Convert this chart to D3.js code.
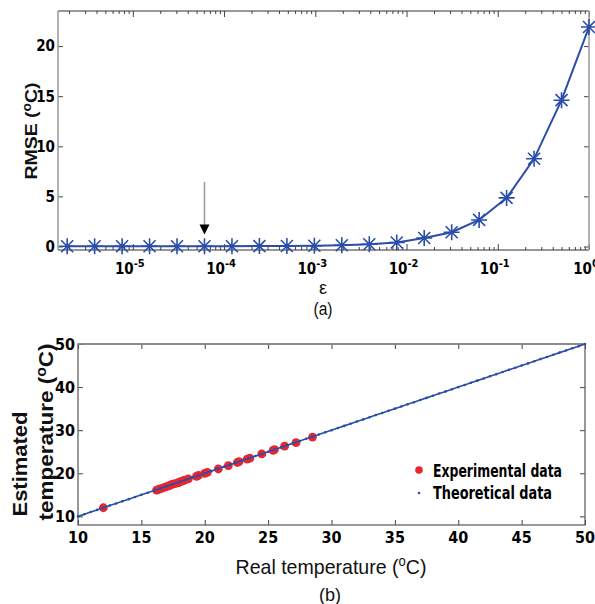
<!DOCTYPE html>
<html>
<head>
<meta charset="utf-8">
<script src="https://cdn.jsdelivr.net/npm/d3@7"></script>
<style>
  body { margin: 0; background: #fff; }
  svg { display: block; }
  .tick-lab { font-family: "Liberation Sans Narrow", "Arial Narrow", "DejaVu Sans Condensed", sans-serif; font-weight: bold; font-stretch: condensed; fill: #000; }
  .lab { font-family: "Liberation Sans", Arial, sans-serif; fill: #111; }
</style>
</head>
<body>
<div id="chart"></div>
<script>
// (a) RMSE vs epsilon
const epsVals = [1.9073e-6, 3.8147e-6, 7.6294e-6, 1.5259e-5, 3.0518e-5, 6.1035e-5, 1.2207e-4, 2.4414e-4,
  4.8828e-4, 9.7656e-4, 0.0019531, 0.0039063, 0.0078125, 0.015625, 0.03125, 0.0625, 0.125, 0.25, 0.5, 1];
const rmseVals = [0.03, 0.03, 0.03, 0.03, 0.03, 0.03, 0.03, 0.04, 0.05, 0.08, 0.12, 0.22, 0.4, 0.85,
  1.42, 2.65, 4.85, 8.75, 14.6, 21.9];
const epsTicks = [-5, -4, -3, -2, -1, 0];
const rmseTicks = [0, 5, 10, 15, 20];
const arrowEps = 6.1035e-5;

// (b) estimated vs real temperature
const expReal = [12.0, 16.2, 16.4, 16.6, 16.86, 17.1, 17.25, 17.4, 17.65, 17.9, 18.05, 18.2, 18.4, 18.7,
  19.35, 19.5, 20.0, 20.2, 21.07, 21.86, 22.57, 22.7, 23.35, 23.56, 24.5, 25.4, 25.5, 26.3, 27.2, 28.5];
const expEst = [12.0, 16.1, 16.3, 16.5, 16.8, 17.0, 17.2, 17.4, 17.6, 17.8, 18.0, 18.2, 18.4, 18.7,
  19.3, 19.5, 20.0, 20.2, 21.0, 21.8, 22.5, 22.7, 23.3, 23.5, 24.5, 25.3, 25.5, 26.3, 27.1, 28.4];
const theoReal = [10,10.5,11,11.5,12,12.5,13,13.5,14,14.5,15,15.5,16,16.5,17,17.5,18,18.5,19,19.5,
  20,20.5,21,21.5,22,22.5,23,23.5,24,24.5,25,25.5,26,26.5,27,27.5,28,28.5,29,29.5,
  30,30.5,31,31.5,32,32.5,33,33.5,34,34.5,35,35.5,36,36.5,37,37.5,38,38.5,39,39.5,
  40,40.5,41,41.5,42,42.5,43,43.5,44,44.5,45,45.5,46,46.5,47,47.5,48,48.5,49,49.5,50];
const theoEst = [10,10.5,11,11.5,12,12.5,13,13.5,14,14.5,15,15.5,16,16.5,17,17.5,18,18.5,19,19.5,
  20,20.5,21,21.5,22,22.5,23,23.5,24,24.5,25,25.5,26,26.5,27,27.5,28,28.5,29,29.5,
  30,30.5,31,31.5,32,32.5,33,33.5,34,34.5,35,35.5,36,36.5,37,37.5,38,38.5,39,39.5,
  40,40.5,41,41.5,42,42.5,43,43.5,44,44.5,45,45.5,46,46.5,47,47.5,48,48.5,49,49.5,50];
const realTicks = [10, 15, 20, 25, 30, 35, 40, 45, 50];
const estTicks = [10, 20, 30, 40, 50];

const width = 595, height = 604;
const blue = "#2a4daa", red = "#e8262d";

const svg = d3.select("#chart").append("svg")
  .attr("width", width).attr("height", height);

/* ---------- panel (a) ---------- */
const x1 = d3.scaleLog().domain([Math.pow(10, -5.82), 1]).range([58, 589]);
const y1 = d3.scaleLinear().domain([-0.35, 23.5]).range([250, 11]);

const gA = svg.append("g");

// minor + major log ticks, bottom and top, pointing inward
const minorVals = [];
for (let e = -6; e < 0; e++) for (let m = 2; m <= 9; m++) {
  const v = m * Math.pow(10, e);
  if (v >= x1.domain()[0]) minorVals.push(v);
}
gA.append("g").attr("transform", "translate(0,250)")
  .call(d3.axisBottom(x1).tickValues(minorVals).tickSize(-3).tickFormat(""))
  .call(g => g.select(".domain").remove());
gA.append("g").attr("transform", "translate(0,11)")
  .call(d3.axisTop(x1).tickValues(minorVals).tickSize(-3).tickFormat(""))
  .call(g => g.select(".domain").remove());
gA.append("g").attr("transform", "translate(0,250)")
  .call(d3.axisBottom(x1).tickValues(epsTicks.map(e => Math.pow(10, e))).tickSize(-6).tickFormat(""))
  .call(g => g.select(".domain").remove());
gA.append("g").attr("transform", "translate(0,11)")
  .call(d3.axisTop(x1).tickValues(epsTicks.map(e => Math.pow(10, e))).tickSize(-6).tickFormat(""))
  .call(g => g.select(".domain").remove());
gA.append("g").attr("transform", "translate(58,0)")
  .call(d3.axisLeft(y1).tickValues(rmseTicks).tickSize(-5).tickFormat(""))
  .call(g => g.select(".domain").remove());
gA.append("g").attr("transform", "translate(589,0)")
  .call(d3.axisRight(y1).tickValues(rmseTicks).tickSize(-5).tickFormat(""))
  .call(g => g.select(".domain").remove());
gA.selectAll(".tick line").attr("stroke", "#444");

// frame
gA.append("line").attr("x1", 58).attr("x2", 589).attr("y1", 11).attr("y2", 11).attr("stroke", "#333");
gA.append("line").attr("x1", 58).attr("x2", 589).attr("y1", 250).attr("y2", 250).attr("stroke", "#333");
gA.append("line").attr("x1", 58).attr("x2", 58).attr("y1", 11).attr("y2", 250).attr("stroke", "#999").attr("stroke-width", 1.5);
gA.append("line").attr("x1", 589).attr("x2", 589).attr("y1", 11).attr("y2", 250).attr("stroke", "#999").attr("stroke-width", 1.5);

// tick labels
const xl = gA.append("g").selectAll("text").data(epsTicks).join("text")
  .attr("class", "tick-lab")
  .attr("x", d => x1(Math.pow(10, d)) - 3)
  .attr("y", 274)
  .attr("text-anchor", "middle")
  .style("font-size", "15px");
xl.append("tspan").text("10");
xl.append("tspan").attr("dy", -7).style("font-size", "11px").text(d => d === 0 ? "0" : String(d));

gA.append("g").selectAll("text").data(rmseTicks).join("text")
  .attr("class", "tick-lab")
  .attr("x", 55).attr("y", d => y1(d))
  .attr("dy", "0.36em")
  .attr("text-anchor", "end")
  .style("font-size", "15px")
  .text(d => d);

// line + asterisk markers
const lineA = d3.line().x((d, i) => x1(epsVals[i])).y(d => y1(d));
gA.append("path").datum(rmseVals)
  .attr("d", lineA).attr("fill", "none").attr("stroke", blue).attr("stroke-width", 2);

const star = "M-8,0L8,0M0,-8L0,8M-6,-6L6,6M-6,6L6,-6";
gA.append("g").selectAll("path").data(rmseVals).join("path")
  .attr("transform", (d, i) => `translate(${x1(epsVals[i])},${y1(d)})`)
  .attr("d", star).attr("fill", "none").attr("stroke", blue).attr("stroke-width", 1.6);

// arrow
const ax = x1(arrowEps);
gA.append("line").attr("x1", ax).attr("x2", ax).attr("y1", y1(6.45)).attr("y2", y1(1.5))
  .attr("stroke", "#999").attr("stroke-width", 1.5);
gA.append("path")
  .attr("d", `M${ax - 5},${y1(2.2)}L${ax + 5},${y1(2.2)}L${ax},${y1(1.2)}Z`)
  .attr("fill", "#000");

// labels
gA.append("text").attr("class", "lab")
  .attr("transform", "translate(37,131) rotate(-90)")
  .attr("text-anchor", "middle")
  .style("font-size", "17px").style("font-weight", "bold")
  .attr("textLength", 97).attr("lengthAdjust", "spacingAndGlyphs")
  .call(t => {
    t.append("tspan").text("RMSE (");
    t.append("tspan").attr("dy", -6).style("font-size", "12px").text("o");
    t.append("tspan").attr("dy", 6).text("C)");
  });
gA.append("text").attr("class", "lab")
  .attr("x", 323).attr("y", 294).attr("text-anchor", "middle")
  .style("font-size", "18px").text("ε");
gA.append("text").attr("class", "lab")
  .attr("x", 323).attr("y", 315).attr("text-anchor", "middle")
  .style("font-size", "18px").attr("textLength", 19).attr("lengthAdjust", "spacingAndGlyphs").text("(a)");

/* ---------- panel (b) ---------- */
const x2 = d3.scaleLinear().domain([10, 50]).range([78, 585]);
const y2 = d3.scaleLinear().domain([8, 50]).range([525, 344]);

const gB = svg.append("g");

gB.append("g").attr("transform", "translate(0,525)")
  .call(d3.axisBottom(x2).tickValues(realTicks).tickSize(-5).tickFormat(""))
  .call(g => g.select(".domain").remove());
gB.append("g").attr("transform", "translate(0,344)")
  .call(d3.axisTop(x2).tickValues(realTicks).tickSize(-5).tickFormat(""))
  .call(g => g.select(".domain").remove());
gB.append("g").attr("transform", "translate(78,0)")
  .call(d3.axisLeft(y2).tickValues(estTicks).tickSize(-5).tickFormat(""))
  .call(g => g.select(".domain").remove());
gB.append("g").attr("transform", "translate(585,0)")
  .call(d3.axisRight(y2).tickValues(estTicks).tickSize(-5).tickFormat(""))
  .call(g => g.select(".domain").remove());
gB.selectAll(".tick line").attr("stroke", "#444");

gB.append("rect").attr("x", 78).attr("y", 344).attr("width", 507).attr("height", 181)
  .attr("fill", "none").attr("stroke", "#555").attr("stroke-width", 1.2);
gB.append("line").attr("x1", 78).attr("x2", 585).attr("y1", 344).attr("y2", 344)
  .attr("stroke", "#888").attr("stroke-width", 1.5);

gB.append("g").selectAll("text").data(realTicks).join("text")
  .attr("class", "tick-lab")
  .attr("x", d => x2(d)).attr("y", 543)
  .attr("text-anchor", "middle")
  .style("font-size", "16px")
  .text(d => d);
gB.append("g").selectAll("text").data(estTicks).join("text")
  .attr("class", "tick-lab")
  .attr("x", 75).attr("y", d => y2(d)).attr("dy", "0.36em")
  .attr("text-anchor", "end")
  .style("font-size", "16px")
  .text(d => d);

// experimental points
gB.append("g").selectAll("circle").data(expReal).join("circle")
  .attr("cx", d => x2(d)).attr("cy", (d, i) => y2(expEst[i]))
  .attr("r", 4.4).attr("fill", red);

// theoretical data
const lineB = d3.line().x(d => x2(d)).y((d, i) => y2(theoEst[i]));
gB.append("path").datum(theoReal)
  .attr("d", lineB).attr("fill", "none").attr("stroke", blue).attr("stroke-width", 1.6);
gB.append("g").selectAll("circle").data(theoReal).join("circle")
  .attr("cx", d => x2(d)).attr("cy", (d, i) => y2(theoEst[i]))
  .attr("r", 1.3).attr("fill", blue);

// legend
const legend = gB.append("g");
legend.append("circle").attr("cx", 419).attr("cy", 470).attr("r", 3.8).attr("fill", red);
legend.append("circle").attr("cx", 419).attr("cy", 493).attr("r", 1.3).attr("fill", blue);
legend.append("text").attr("class", "tick-lab").attr("x", 433).attr("y", 476.5)
  .style("font-size", "17px").attr("textLength", 129).attr("lengthAdjust", "spacingAndGlyphs")
  .text("Experimental data");
legend.append("text").attr("class", "tick-lab").attr("x", 433).attr("y", 498.5)
  .style("font-size", "17px").attr("textLength", 119).attr("lengthAdjust", "spacingAndGlyphs")
  .text("Theoretical data");

// axis labels
gB.append("text").attr("class", "lab")
  .attr("transform", "translate(27,464) rotate(-90)")
  .attr("text-anchor", "middle")
  .style("font-size", "20px").style("font-weight", "bold")
  .attr("textLength", 105).attr("lengthAdjust", "spacingAndGlyphs")
  .text("Estimated");
gB.append("text").attr("class", "lab")
  .attr("transform", "translate(53,432) rotate(-90)")
  .attr("text-anchor", "middle")
  .style("font-size", "20px").style("font-weight", "bold")
  .attr("textLength", 177).attr("lengthAdjust", "spacingAndGlyphs")
  .call(t => {
    t.append("tspan").text("temperature (");
    t.append("tspan").attr("dy", -7).style("font-size", "14px").text("o");
    t.append("tspan").attr("dy", 7).text("C)");
  });
gB.append("text").attr("class", "lab")
  .attr("x", 331).attr("y", 574).attr("text-anchor", "middle")
  .style("font-size", "21px")
  .attr("textLength", 191).attr("lengthAdjust", "spacingAndGlyphs")
  .call(t => {
    t.append("tspan").text("Real temperature (");
    t.append("tspan").attr("dy", -8).style("font-size", "14px").text("o");
    t.append("tspan").attr("dy", 8).text("C)");
  });
gB.append("text").attr("class", "lab")
  .attr("x", 330).attr("y", 601).attr("text-anchor", "middle")
  .style("font-size", "19px").attr("textLength", 22).attr("lengthAdjust", "spacingAndGlyphs").text("(b)");
</script>
</body>
</html>
